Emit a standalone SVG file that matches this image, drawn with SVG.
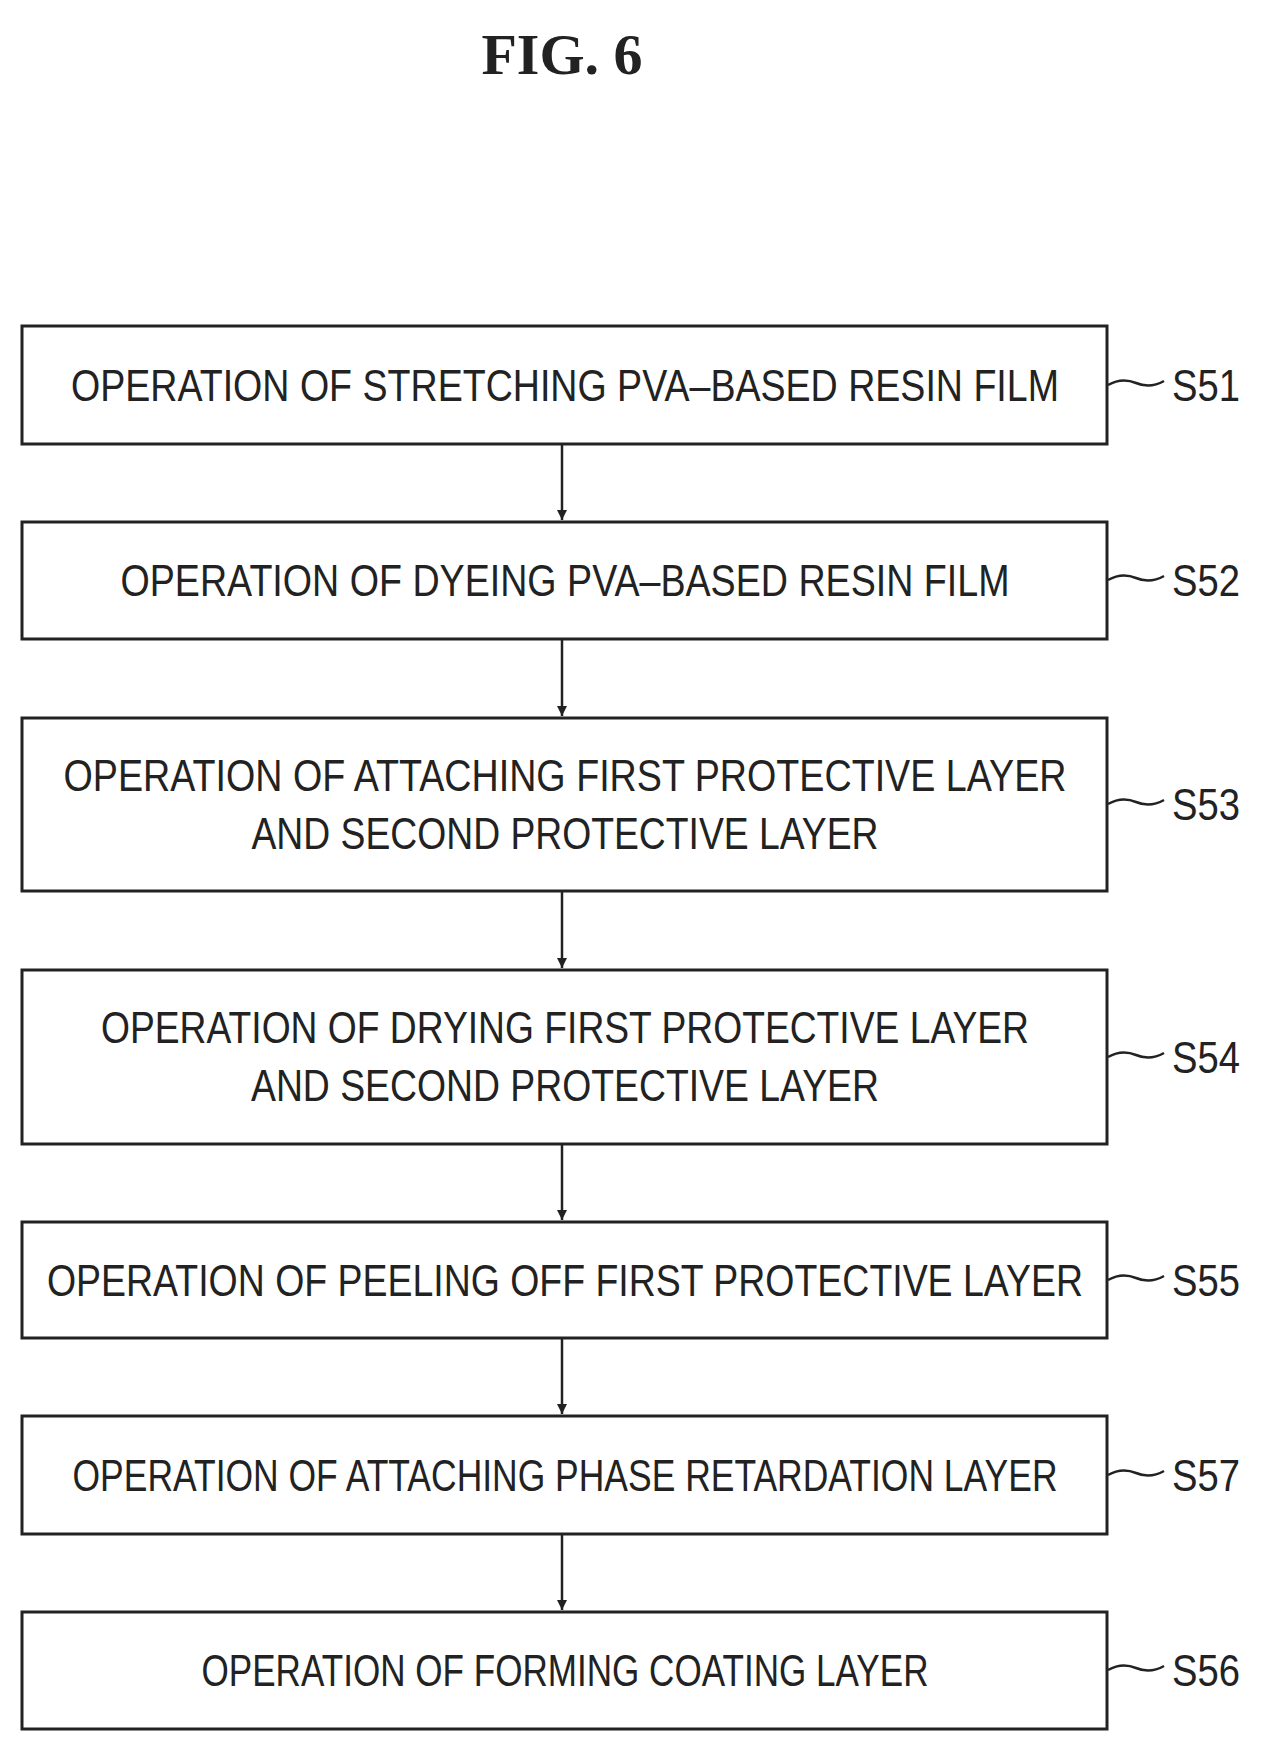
<svg xmlns="http://www.w3.org/2000/svg" width="1264" height="1750" viewBox="0 0 1264 1750">
<style>
.b{fill:#fff;stroke:#222;stroke-width:3}
.t{font-family:"Liberation Sans",Arial,sans-serif;font-size:44px;fill:#222;text-anchor:middle}
.l{font-family:"Liberation Sans",Arial,sans-serif;font-size:44px;fill:#222}
.c{fill:none;stroke:#222;stroke-width:2.5}
</style>
<defs><marker id="a" markerWidth="12" markerHeight="12" refX="10" refY="5" orient="auto" markerUnits="userSpaceOnUse"><path d="M0,0 L10,5 L0,10 Z" fill="#222"/></marker></defs>
<rect width="1264" height="1750" fill="#fff"/>
<text x="562" y="74" font-family="Liberation Serif,serif" font-weight="bold" font-size="58" text-anchor="middle" fill="#222">FIG.  6</text>
<g id="connectors">
<line class="c" x1="562" y1="444" x2="562" y2="520" marker-end="url(#a)"/>
<line class="c" x1="562" y1="639" x2="562" y2="716" marker-end="url(#a)"/>
<line class="c" x1="562" y1="891" x2="562" y2="968" marker-end="url(#a)"/>
<line class="c" x1="562" y1="1144" x2="562" y2="1220" marker-end="url(#a)"/>
<line class="c" x1="562" y1="1338" x2="562" y2="1414" marker-end="url(#a)"/>
<line class="c" x1="562" y1="1534" x2="562" y2="1610" marker-end="url(#a)"/>
<path class="c" d="M1108,385 q14,-8 28,-2 q14,6 28,-2"/>
<path class="c" d="M1108,580 q14,-8 28,-2 q14,6 28,-2"/>
<path class="c" d="M1108,804 q14,-8 28,-2 q14,6 28,-2"/>
<path class="c" d="M1108,1057 q14,-8 28,-2 q14,6 28,-2"/>
<path class="c" d="M1108,1280 q14,-8 28,-2 q14,6 28,-2"/>
<path class="c" d="M1108,1475 q14,-8 28,-2 q14,6 28,-2"/>
<path class="c" d="M1108,1670 q14,-8 28,-2 q14,6 28,-2"/>
</g>
<g id="S51"><rect class="b" x="22" y="326" width="1085" height="118"/><text class="t" x="565" y="401" textLength="988" lengthAdjust="spacingAndGlyphs">OPERATION OF STRETCHING PVA–BASED RESIN FILM</text><text class="l" x="1172" y="401" textLength="68" lengthAdjust="spacingAndGlyphs">S51</text></g>
<g id="S52"><rect class="b" x="22" y="522" width="1085" height="117"/><text class="t" x="565" y="596" textLength="889" lengthAdjust="spacingAndGlyphs">OPERATION OF DYEING PVA–BASED RESIN FILM</text><text class="l" x="1172" y="596" textLength="68" lengthAdjust="spacingAndGlyphs">S52</text></g>
<g id="S53"><rect class="b" x="22" y="718" width="1085" height="173"/><text class="t" x="565" y="791" textLength="1003" lengthAdjust="spacingAndGlyphs">OPERATION OF ATTACHING FIRST PROTECTIVE LAYER</text><text class="t" x="565" y="849" textLength="627" lengthAdjust="spacingAndGlyphs">AND SECOND PROTECTIVE LAYER</text><text class="l" x="1172" y="820" textLength="68" lengthAdjust="spacingAndGlyphs">S53</text></g>
<g id="S54"><rect class="b" x="22" y="970" width="1085" height="174"/><text class="t" x="565" y="1043" textLength="928" lengthAdjust="spacingAndGlyphs">OPERATION OF DRYING FIRST PROTECTIVE LAYER</text><text class="t" x="565" y="1101" textLength="628" lengthAdjust="spacingAndGlyphs">AND SECOND PROTECTIVE LAYER</text><text class="l" x="1172" y="1073" textLength="68" lengthAdjust="spacingAndGlyphs">S54</text></g>
<g id="S55"><rect class="b" x="22" y="1222" width="1085" height="116"/><text class="t" x="565" y="1296" textLength="1036" lengthAdjust="spacingAndGlyphs">OPERATION OF PEELING OFF FIRST PROTECTIVE LAYER</text><text class="l" x="1172" y="1296" textLength="68" lengthAdjust="spacingAndGlyphs">S55</text></g>
<g id="S57"><rect class="b" x="22" y="1416" width="1085" height="118"/><text class="t" x="565" y="1491" textLength="985" lengthAdjust="spacingAndGlyphs">OPERATION OF ATTACHING PHASE RETARDATION LAYER</text><text class="l" x="1172" y="1491" textLength="68" lengthAdjust="spacingAndGlyphs">S57</text></g>
<g id="S56"><rect class="b" x="22" y="1612" width="1085" height="117"/><text class="t" x="565" y="1686" textLength="727" lengthAdjust="spacingAndGlyphs">OPERATION OF FORMING COATING LAYER</text><text class="l" x="1172" y="1686" textLength="68" lengthAdjust="spacingAndGlyphs">S56</text></g>
</svg>
